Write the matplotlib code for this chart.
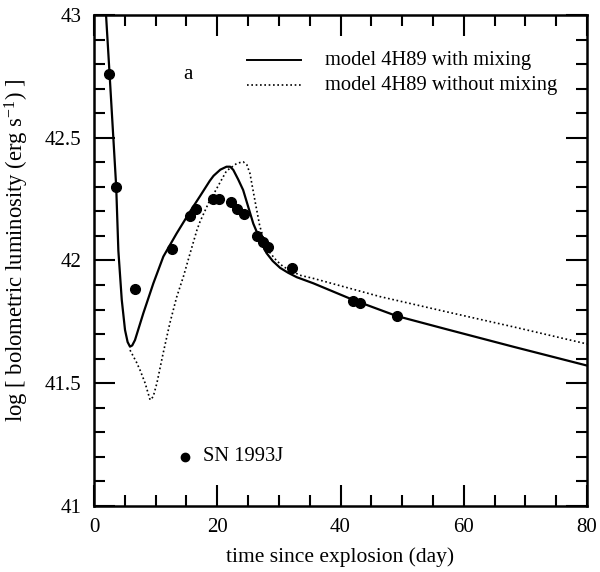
import matplotlib
matplotlib.use("Agg")
import matplotlib.pyplot as plt
from matplotlib.ticker import MultipleLocator

plt.rcParams['font.family'] = ['Liberation Serif', 'DejaVu Serif']
plt.rcParams['mathtext.fontset'] = 'custom'
plt.rcParams['mathtext.rm'] = 'Liberation Serif'
plt.rcParams['mathtext.it'] = 'Liberation Serif:italic'

# observed SN 1993J points
obs_t = [2.5, 3.6, 6.6, 12.6, 15.5, 16.5, 19.3, 20.3, 22.3, 23.2, 24.3,
         26.4, 27.4, 28.2, 32.1, 42.0, 43.1, 49.1]
obs_L = [42.76, 42.30, 41.885, 42.047, 42.18, 42.21, 42.25, 42.25, 42.24,
         42.21, 42.19, 42.10, 42.075, 42.055, 41.97, 41.835, 41.826, 41.774]

# model 4H89 with mixing
mix_t = [1.95, 2.5, 3.25, 3.6, 3.95, 4.5, 5.03, 5.45, 5.84, 6.2, 6.65, 8.0,
         9.63, 11.25, 13.4, 15.6, 17.2, 18.8, 19.4, 20.5, 21.5, 22.1, 22.6,
         23.4, 24.2, 25.85, 27.2, 28.0, 29.0, 30.2, 31.5, 32.9, 35.6, 42.1,
         49.1, 57.2, 68.0, 80.0]
mix_L = [43.0, 42.77, 42.45, 42.30, 42.04, 41.84, 41.717, 41.668, 41.649,
         41.654, 41.676, 41.785, 41.907, 42.016, 42.11, 42.2, 42.262, 42.325,
         42.345, 42.37, 42.382, 42.382, 42.369, 42.33, 42.287, 42.15, 42.07,
         42.03, 41.998, 41.97, 41.95, 41.932, 41.907, 41.839, 41.774, 41.72,
         41.649, 41.572]

# model 4H89 without mixing
nomix_t = [5.84, 6.9, 7.46, 8.3, 9.1, 9.6, 10.2, 11.2, 12.3, 13.4, 14.5,
           15.6, 16.7, 17.2, 18.8, 19.4, 20.5, 21.5, 23.2, 24.2, 24.8, 25.3,
           26.1, 26.9, 27.7, 28.6, 29.6, 30.7, 33.4, 35.6, 46.4, 57.2, 68.0,
           80.0]
nomix_L = [41.635, 41.585, 41.554, 41.50, 41.432, 41.445, 41.50, 41.62,
           41.744, 41.85, 41.934, 42.03, 42.124, 42.158, 42.246, 42.27,
           42.32, 42.365, 42.396, 42.402, 42.39, 42.355, 42.246, 42.14,
           42.075, 42.03, 42.0, 41.975, 41.94, 41.927, 41.853, 41.791, 41.73,
           41.66]

fig = plt.figure(figsize=(6.0, 5.72), dpi=100)
ax = fig.add_axes([0.1567, 0.1154, 0.8216, 0.8584])

ax.plot(mix_t, mix_L, color='black', lw=1.6, solid_joinstyle='round')
ax.plot(nomix_t, nomix_L, color='black', lw=1.2, linestyle=(0, (1, 1.6)))
ax.plot(obs_t, obs_L, 'o', color='black', ms=7, clip_on=False)

ax.set_xlim(0, 80)
ax.set_ylim(41, 43)
ax.xaxis.set_major_locator(MultipleLocator(20))
ax.xaxis.set_minor_locator(MultipleLocator(5))
ax.yaxis.set_major_locator(MultipleLocator(0.5))
ax.yaxis.set_minor_locator(MultipleLocator(0.1))
ax.set_yticks([41, 41.5, 42, 42.5, 43])
ax.set_yticklabels(['41', '41.5', '42', '42.5', '43'])

ax.tick_params(which='both', direction='in', top=True, right=True,
               labelsize=15, width=1.5, color='black')
ax.tick_params(which='major', length=15, pad=9)
ax.tick_params(which='minor', length=8)
for s in ax.spines.values():
    s.set_linewidth(1.8)

ax.set_xlabel('time since explosion (day)', fontsize=15.5, labelpad=7)
ax.set_ylabel(r'log [ bolometric luminosity (erg s$^{-1}$) ]', fontsize=16.3)
ax.yaxis.set_label_coords(-0.128, 0.52)

# legend (drawn manually in axes coords)
ax.plot([0.31, 0.42], [0.908, 0.908], transform=ax.transAxes, color='black',
        lw=1.4)
ax.plot([0.31, 0.42], [0.857, 0.857], transform=ax.transAxes, color='black',
        lw=1.2, linestyle=(0, (1, 1.6)))
ax.text(0.468, 0.908, 'model 4H89 with mixing', transform=ax.transAxes,
        fontsize=14.8, va='center', ha='left')
ax.text(0.468, 0.857, 'model 4H89 without mixing', transform=ax.transAxes,
        fontsize=14.8, va='center', ha='left')
ax.text(0.19, 0.878, 'a', transform=ax.transAxes, fontsize=15,
        va='center', ha='center')
ax.plot([0.185], [0.100], 'o', color='black', ms=6, transform=ax.transAxes)
ax.text(0.222, 0.100, 'SN 1993J', transform=ax.transAxes, fontsize=14.8,
        va='center', ha='left')

fig.savefig('out.png', dpi=100)
